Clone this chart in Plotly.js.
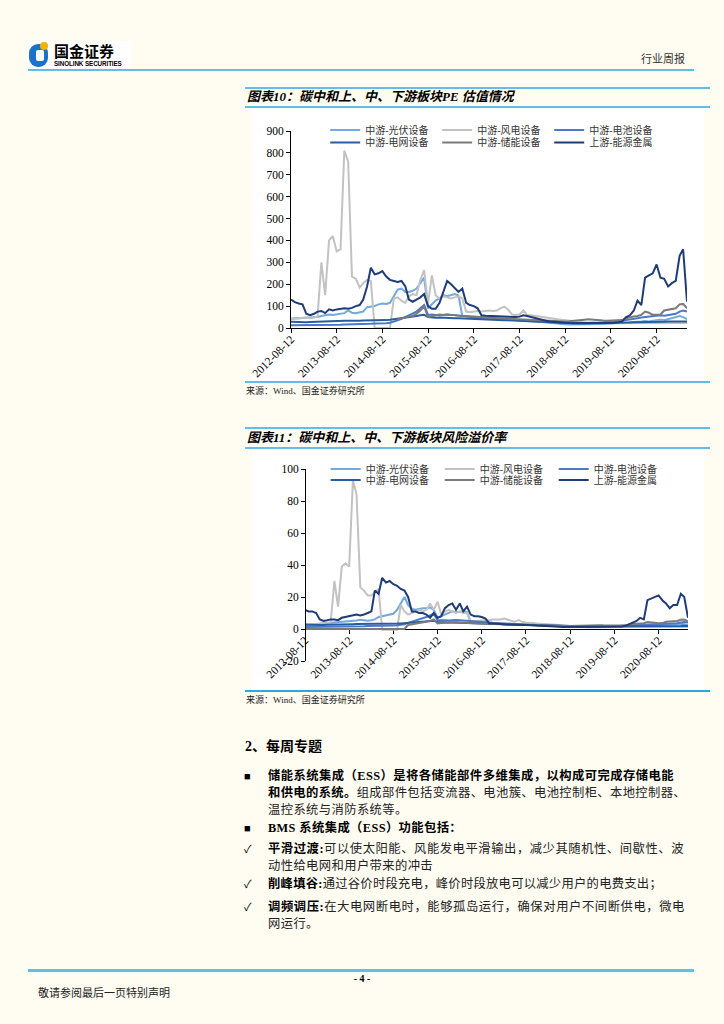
<!DOCTYPE html>
<html><head><meta charset="utf-8">
<script src="https://cdn.plot.ly/plotly-3.0.1.min.js"></script>
<style>
body{margin:0;padding:0;background:#FFFCF2;width:724px;height:1024px;position:relative;overflow:hidden;font-family:"Liberation Serif","Noto Sans CJK SC",serif;color:#000;}
.a{position:absolute;white-space:nowrap;}
.rule{position:absolute;background:#62BDE9;}
.ttl{position:absolute;left:247px;font-size:13px;font-weight:bold;font-style:italic;height:18px;line-height:18px;white-space:nowrap;}
.src{position:absolute;left:246px;font-size:9px;color:#222;height:12px;line-height:12px;white-space:nowrap;}
.panel{position:absolute;left:252px;width:452px;background:#fff;}
.plot{position:absolute;left:-10px;top:0;}
.ln{position:absolute;left:268px;font-size:12.3px;height:17px;line-height:17px;white-space:nowrap;color:#222;letter-spacing:0.4px;}
.b{font-weight:bold;color:#000;}
.mk{position:absolute;left:244px;font-size:11px;height:17px;line-height:17px;}
</style></head>
<body>
<!-- header -->
<div class="a" style="left:28px;top:41px;width:103px;height:26px;background:#fff;"></div>
<svg class="a" style="left:29px;top:41px" width="22" height="26" viewBox="0 0 22 26">
<rect x="0" y="3" width="19" height="23" rx="9" fill="#1B73C6"/>
<rect x="7" y="9" width="8" height="11" rx="2" fill="#fff"/>
<circle cx="15" cy="5" r="4" fill="#F0B400"/>
</svg>
<div class="a" style="left:54px;top:42px;font-size:15px;font-weight:bold;line-height:17px;font-family:'Noto Sans CJK SC';">国金证券</div>
<div class="a" style="left:54px;top:60px;font-size:6.3px;font-weight:bold;line-height:7px;font-family:'Liberation Sans';letter-spacing:-0.1px;">SINOLINK SECURITIES</div>
<div class="a" style="left:641px;top:51px;font-size:11px;line-height:14px;color:#333;font-family:'Noto Sans CJK SC';">行业周报</div>
<div class="rule" style="left:28px;top:69px;width:666px;height:2px;"></div>

<!-- chart 1 -->
<div class="rule" style="left:245px;top:87px;width:465px;height:2px;"></div>
<div class="ttl" style="top:88px;">图表10：碳中和上、中、下游板块PE 估值情况</div>
<div class="rule" style="left:245px;top:106px;width:465px;height:2px;"></div>
<div class="panel" style="top:108px;height:273px;"><div id="c1" class="plot"></div></div>
<div class="rule" style="left:245px;top:381px;width:465px;height:1.5px;"></div>
<div class="src" style="top:385px;">来源：Wind、国金证券研究所</div>

<!-- chart 2 -->
<div class="rule" style="left:245px;top:427px;width:465px;height:2px;"></div>
<div class="ttl" style="top:429px;">图表11：碳中和上、中、下游板块风险溢价率</div>
<div class="rule" style="left:245px;top:447px;width:465px;height:2px;"></div>
<div class="panel" style="top:449px;height:241px;"><div id="c2" class="plot"></div></div>
<div class="rule" style="left:245px;top:690px;width:465px;height:2px;background:#2AA8E6;"></div>
<div class="src" style="top:694px;">来源：Wind、国金证券研究所</div>

<!-- text -->
<div class="a b" style="left:245px;top:738px;font-size:14px;line-height:18px;">2、每周专题</div>
<div class="mk" style="top:768px;">■</div>
<div class="ln b fit" data-w="406" style="top:768px;">储能系统集成（ESS）是将各储能部件多维集成，以构成可完成存储电能</div>
<div class="ln fit" data-w="418" style="top:785px;"><span class="b">和供电的系统。</span>组成部件包括变流器、电池簇、电池控制柜、本地控制器、</div>
<div class="ln" style="top:802px;">温控系统与消防系统等。</div>
<div class="mk" style="top:820px;">■</div>
<div class="ln b" style="top:820px;">BMS 系统集成（ESS）功能包括：</div>
<div class="mk" style="top:841px;">✓</div>
<div class="ln fit" data-w="416" style="top:841px;"><span class="b">平滑过渡:</span>可以使太阳能、风能发电平滑输出，减少其随机性、间歇性、波</div>
<div class="ln" style="top:858px;">动性给电网和用户带来的冲击</div>
<div class="mk" style="top:876px;">✓</div>
<div class="ln fit" data-w="394" style="top:876px;"><span class="b">削峰填谷:</span>通过谷价时段充电，峰价时段放电可以减少用户的电费支出；</div>
<div class="mk" style="top:899px;">✓</div>
<div class="ln fit" data-w="417" style="top:899px;"><span class="b">调频调压:</span>在大电网断电时，能够孤岛运行，确保对用户不间断供电，微电</div>
<div class="ln" style="top:916px;">网运行。</div>

<!-- footer -->
<div class="rule" style="left:28px;top:969px;width:666px;height:3px;"></div>
<div class="a" style="left:352px;top:973px;width:20px;text-align:center;font-size:10px;font-weight:bold;line-height:12px;">- 4 -</div>
<div class="a" style="left:38px;top:985px;font-size:11px;line-height:15px;color:#222;font-family:'Noto Sans CJK SC';">敬请参阅最后一页特别声明</div>

<script>
// fit full-width text lines to their measured width in the reference
document.querySelectorAll('.fit').forEach(el=>{
  el.style.letterSpacing='0px';
  const r=document.createRange(); r.selectNodeContents(el);
  const w=r.getBoundingClientRect().width;
  const n=el.textContent.length;
  el.style.letterSpacing=((+el.dataset.w - w)/n)+'px';
});

// ---------- data ----------
const seriesNames = ['中游-光伏设备','中游-风电设备','中游-电池设备','中游-电网设备','中游-储能设备','上游-能源金属'];
const seriesColors = ['#72A9DE','#C2C2C2','#4A78CC','#2A5D9F','#7A7A7A','#1F3C78'];
const xTickDates = ['2012-08-12','2013-08-12','2014-08-12','2015-08-12','2016-08-12','2017-08-12','2018-08-12','2019-08-12','2020-08-12'];
const xTickLabels = ['2012-08-12','2013-08-12','2014-08-12','2015-08-12','2016-08-12','2017-08-12','2018-08-12','2019-08-12','2020-08-12'];
// monthly observation dates, 2012-08-12 .. 2021-04-12
function monthlyDates(n){const out=[];for(let i=0;i<n;i++){const y=2012+Math.floor((7+i)/12);const mo=(7+i)%12+1;out.push(y+'-'+String(mo).padStart(2,'0')+'-12');}return out;}
const dates = monthlyDates(105);

// Chart 1: PE
const pePV = [42,45,44,45,46,48,47,50,55,60,62,60,
 62,65,68,80,70,68,72,75,95,98,100,108,
 112,110,115,145,175,180,165,165,170,180,205,230,
 90,110,125,135,150,145,150,155,148,55,55,52,
 50,48,47,46,45,44,42,40,40,38,37,36,
 35,34,33,32,30,28,26,24,22,20,19,18,
 17,16,16,15,15,15,16,17,17,18,18,19,
 20,20,21,22,24,25,26,28,30,32,30,33,
 35,38,36,40,45,50,55,50,40];
const peWind = [40,42,45,45,48,45,50,52,300,150,400,420,
 350,360,810,760,235,225,185,205,220,215,0,0,
 0,0,0,135,140,125,115,145,155,150,220,265,
 110,240,150,135,145,140,135,140,145,135,75,72,
 75,78,75,78,80,78,80,90,98,85,62,60,
 62,80,60,58,55,52,50,47,45,42,40,38,
 36,34,30,27,25,25,24,24,23,23,22,22,
 22,22,22,22,21,21,21,21,20,20,20,20,
 20,20,21,21,22,22,22,23,23];
const peBattery = [12,12,12,12,12,13,13,13,14,14,14,15,
 15,15,16,16,16,17,17,18,18,19,20,20,
 21,22,24,28,35,42,50,58,65,75,90,105,
 60,62,60,58,60,62,60,58,58,56,55,52,
 50,48,46,45,44,42,40,40,38,37,36,35,
 34,33,32,31,30,29,28,27,26,25,25,24,
 24,23,23,22,22,22,23,23,24,25,26,27,
 28,30,32,34,36,40,42,45,48,50,52,55,
 55,58,56,60,62,65,75,80,75];
const peGrid = [28,27,27,26,26,27,28,28,29,30,30,31,
 32,32,33,33,32,32,33,34,34,35,34,34,
 35,36,38,40,42,45,48,50,52,55,58,60,
 50,48,47,48,48,47,46,45,44,43,42,42,
 41,40,40,39,38,38,37,36,35,35,34,34,
 33,32,31,30,30,29,28,27,26,25,25,24,
 24,23,23,22,22,22,22,22,22,22,22,22,
 23,23,24,24,25,25,26,26,27,27,28,28,
 28,29,29,30,30,30,31,32,30];
const peStorage = [null,null,null,null,null,null,null,null,null,null,null,null,
 null,null,null,null,null,null,null,null,null,null,null,null,
 null,null,null,null,40,45,50,52,55,65,80,100,
 50,55,60,62,60,62,60,58,55,55,53,52,
 52,50,50,48,47,46,45,45,44,43,42,42,
 40,40,38,37,36,35,33,32,31,30,30,30,
 30,31,32,33,35,38,40,38,36,35,34,33,
 33,33,34,36,45,50,53,55,60,75,70,60,
 60,62,80,83,85,90,108,110,90];
const peMetals = [130,118,112,108,65,58,65,75,78,68,85,80,
 85,88,90,88,92,100,105,130,190,275,245,250,
 260,235,220,215,210,215,190,130,120,130,140,155,
 100,88,88,115,165,215,200,185,165,180,115,105,
 100,90,58,56,55,55,54,52,52,50,50,50,
 52,58,55,50,45,40,36,33,30,28,26,25,
 24,23,22,22,21,21,21,21,21,22,22,22,
 23,24,26,30,50,58,80,125,105,230,240,250,
 290,230,225,190,205,215,330,360,120];

// Chart 2: risk premium
const rpPV = [3,3.2,3,3.2,3.3,3.5,3.5,3.8,4,4.2,4.5,4.5,
 4.8,5,5.3,5.8,5.3,5.2,5.5,6,7.5,8,8.5,9,
 9.5,12,16,20,15,12.5,12,12.5,13,13,13.5,12,
 7,8,9,10,11,10.5,11,11,10.5,4,4,3.8,
 3.7,3.5,3.4,3.3,3.2,3.1,3,2.9,2.8,2.7,2.6,2.5,
 2.4,2.3,2.2,2.1,2,1.9,1.8,1.7,1.6,1.5,1.4,1.3,
 1.2,1.2,1.1,1.1,1.1,1.1,1.1,1.2,1.2,1.2,1.2,1.3,
 1.3,1.3,1.4,1.5,1.6,1.7,1.8,1.9,2,2.1,2,2.2,
 2.3,2.4,2.3,2.5,2.7,2.9,3.2,3,2.5];
const rpWind = [3,3,3.2,3.3,3.5,3.5,3.8,4,30,14,39,41,
 39,93,84,26,24,21,21,23,25,-0.5,-0.5,-0.5,
 -0.5,-0.5,15,11,9,10,11,12,11,12,16,12,
 17,9,11,12,11,10,11,10,10,5,5,5,
 5.5,5.5,5.5,6,6,6,6.5,6,5,4.5,5.5,4.5,
 4,4,3.8,3.5,3.3,3,2.8,2.6,2.5,2.3,2.2,2,
 2,1.9,1.8,1.7,1.6,1.5,1.5,1.4,1.4,1.3,1.3,1.3,
 1.2,1.2,1.2,1.2,1.1,1.1,1.1,1.1,1.1,1.1,1.1,1.1,
 1.1,1.1,1.2,1.2,1.2,1.2,1.2,1.2,1.2];
const rpBattery = [1.3,1.3,1.3,1.3,1.3,1.4,1.4,1.4,1.5,1.5,1.5,1.6,
 1.6,1.6,1.7,1.7,1.7,1.8,1.8,1.9,1.9,2,2.1,2.1,
 2.2,2.3,2.5,3,3.8,4.5,5.5,6,6.5,7.5,8.5,9.5,
 5.5,5.6,5.5,5.3,5.5,5.6,5.4,5.2,5.1,4.9,4.8,4.6,
 4.4,4.2,4,3.9,3.8,3.6,3.4,3.3,3.1,3,2.9,2.8,
 2.7,2.6,2.5,2.4,2.3,2.2,2.1,2,1.9,1.8,1.8,1.7,
 1.7,1.6,1.6,1.5,1.5,1.5,1.5,1.5,1.6,1.6,1.7,1.7,
 1.8,1.9,2,2.1,2.2,2.4,2.5,2.6,2.8,2.9,3,3.1,
 3.1,3.2,3.1,3.3,3.4,3.6,4.1,4.4,4.1];
const rpGrid = [2.6,2.5,2.5,2.4,2.4,2.5,2.6,2.6,2.7,2.8,2.8,2.9,
 3,3,3.1,3.1,3,3,3.1,3.2,3.2,3.3,3.2,3.2,
 3.3,3.4,3.5,3.7,3.9,4.1,4.3,4.5,4.6,4.8,5,5.2,
 4.4,4.2,4.1,4.1,4.1,4,3.9,3.8,3.7,3.6,3.5,3.5,
 3.4,3.3,3.3,3.2,3.1,3.1,3,2.9,2.8,2.8,2.7,2.7,
 2.6,2.5,2.4,2.3,2.3,2.2,2.1,2,1.9,1.8,1.8,1.7,
 1.7,1.6,1.6,1.5,1.5,1.5,1.5,1.5,1.5,1.5,1.5,1.5,
 1.5,1.5,1.6,1.6,1.6,1.6,1.7,1.7,1.7,1.7,1.8,1.8,
 1.8,1.8,1.8,1.9,1.9,1.9,1.9,2,1.8];
const rpStorage = [0,0,0,0,0,0,0,0,0,0,0,0,
 0,0,0,0,0,0,0,0,0,0,0,0,
 0,0,0,0,2.5,3,3.5,3.8,4,4.5,5,6,
 3.5,3.8,4,4.2,4.2,4.2,4,4,3.8,3.8,3.6,3.5,
 3.5,3.4,3.4,3.3,3.2,3.1,3,3,2.9,2.8,2.7,2.7,
 2.6,2.5,2.4,2.3,2.2,2.1,2,2,1.9,1.9,1.9,1.9,
 1.9,2,2.1,2.2,2.3,2.5,2.6,2.5,2.4,2.3,2.2,2.1,
 2.1,2.1,2.2,2.3,2.8,3.1,3.3,3.4,3.6,4.3,4.1,3.6,
 3.6,3.7,4.5,4.7,4.8,5,5.8,5.9,4.8];
const rpMetals = [12,11,11,10,6,5,5.5,6,6,5.5,7,7.5,
 8,8.5,9,8.5,9,10,11,24,22,32,29,30,
 28,27,25,24,20,11,11,10,10,9,7,10,
 7,8,13,15,16,12,16,11,14,9,8,8,
 7.5,6.5,3.5,3.5,3.2,3,3,2.8,2.8,2.6,2.5,2.5,
 2.4,2.6,2.4,2.2,2,1.8,1.6,1.5,1.5,1.4,1.3,1.3,
 1.2,1.2,1.2,1.1,1.1,1.1,1.1,1.1,1.1,1.1,1.1,1.1,
 1.2,1.3,1.5,2,3,4,5,7,6,18,19,20,
 21,18,16,13,15,15,22,20,7];

const peY = [0,100,200,300,400,500,600,700,800,900];
const rpY = [-20,0,20,40,60,80,100];

// ---------- drawing ----------
const CJK = '"Liberation Serif","Noto Sans CJK SC",serif';
const NUM = '"Liberation Serif",serif';
function makeTraces(arrs){
  return arrs.map((v,i)=>({
    x: dates, y: v, type:'scatter', mode:'lines', name: seriesNames[i],
    line:{color: seriesColors[i], width:2}, connectgaps:false,
    legend: i<3 ? 'legend' : 'legend2', hoverinfo:'skip'
  }));
}
// plot divs are 462px wide and start 10px left of the white panel
function legendCfg(x,y,ew){
  return {orientation:'h', x:x, y:y, xanchor:'left', yanchor:'middle', xref:'container', yref:'container',
    font:{family:CJK, size:10, color:'#333'}, bgcolor:'rgba(0,0,0,0)', borderwidth:0,
    entrywidth:ew, entrywidthmode:'pixels', traceorder:'normal'};
}
const axFont = {family:NUM, size:11.5, color:'#000'};
const xBase = {type:'date', range:['2012-08-12','2021-04-12'], tickmode:'array', tickvals:xTickDates, ticktext:xTickLabels,
  tickangle:-45, showline:true, linecolor:'#000', linewidth:1, ticks:'outside', ticklen:4, tickcolor:'#000',
  ticklabelstandoff:-5, ticklabeloverflow:'allow',
  showgrid:false, zeroline:false, tickfont:axFont, fixedrange:true, automargin:false};

const layout1 = {
  width:462, height:273, margin:{l:49,r:17,t:23,b:53,pad:0,autoexpand:false},
  paper_bgcolor:'rgba(0,0,0,0)', plot_bgcolor:'#fff', showlegend:true,
  legend: legendCfg(83.2/462, 0.919, 67), legend2: legendCfg(83.2/462, 0.874, 67),
  xaxis: Object.assign({}, xBase),
  yaxis: {range:[0,900], tickmode:'array', tickvals:peY, ticktext:peY.map(String), showline:true, linecolor:'#000', linewidth:1,
    ticks:'outside', ticklen:4, tickcolor:'#000', showgrid:false, zeroline:false, tickfont:axFont, fixedrange:true, automargin:false}
};
Plotly.newPlot('c1', makeTraces([pePV,peWind,peBattery,peGrid,peStorage,peMetals]), layout1, {displayModeBar:false, staticPlot:true});

const layout2 = {
  width:462, height:241, margin:{l:63,r:16,t:20,b:29,pad:0,autoexpand:false},
  paper_bgcolor:'rgba(0,0,0,0)', plot_bgcolor:'#fff', showlegend:true,
  legend: legendCfg(83.7/462, 0.917, 69), legend2: legendCfg(83.7/462, 0.871, 69),
  xaxis: Object.assign({}, xBase, {anchor:'free', position:20/120, layer:'below traces'}),
  yaxis: {range:[-20,100], anchor:'free', position:0, tickmode:'array', tickvals:rpY, ticktext:rpY.map(String), showline:true, linecolor:'#000', linewidth:1,
    ticks:'outside', ticklen:4, tickcolor:'#000', showgrid:false, zeroline:false, tickfont:axFont, fixedrange:true, automargin:false}
};
Plotly.newPlot('c2', makeTraces([rpPV,rpWind,rpBattery,rpGrid,rpStorage,rpMetals]), layout2, {displayModeBar:false, staticPlot:true});
</script>
</body></html>
